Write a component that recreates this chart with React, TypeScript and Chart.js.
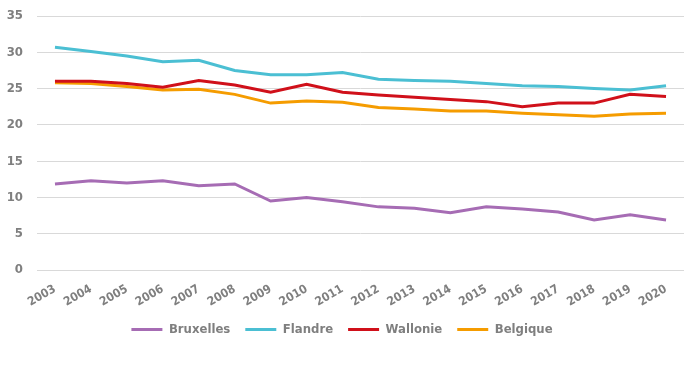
import React, { useEffect, useRef } from "react";
import { Chart, registerables } from "chart.js";

Chart.register(...registerables);

const years = ["2003","2004","2005","2006","2007","2008","2009","2010","2011","2012","2013","2014","2015","2016","2017","2018","2019","2020"];
const bruxelles = [11.85, 12.3, 12.0, 12.3, 11.6, 11.85, 9.5, 10.0, 9.4, 8.7, 8.5, 7.9, 8.7, 8.4, 8.0, 6.9, 7.6, 6.9];
const flandre = [30.7, 30.1, 29.5, 28.7, 28.9, 27.5, 26.9, 26.9, 27.2, 26.3, 26.1, 26.0, 25.7, 25.4, 25.3, 25.0, 24.8, 25.4];
const wallonie = [26.0, 26.0, 25.7, 25.2, 26.1, 25.5, 24.5, 25.6, 24.5, 24.1, 23.8, 23.5, 23.2, 22.5, 23.0, 23.0, 24.2, 23.9];
const belgique = [25.8, 25.7, 25.3, 24.8, 24.9, 24.2, 23.0, 23.3, 23.1, 22.4, 22.2, 21.9, 21.9, 21.6, 21.4, 21.2, 21.5, 21.6];
const yTicks = [0, 5, 10, 15, 20, 25, 30, 35];

const FONT = "'Liberation Sans Narrow', 'DejaVu Sans Condensed', sans-serif";
const GREY = "#7f7f7f";

export default function App() {
  const ref = useRef<HTMLCanvasElement>(null);
  useEffect(() => {
    if (!ref.current) return;
    const mk = (label: string, data: number[], color: string) => ({
      label, data, borderColor: color, backgroundColor: color,
      borderWidth: 3, pointRadius: 0, tension: 0, pointStyle: "line",
    });
    const chart = new Chart(ref.current, {
      type: "line",
      data: {
        labels: years,
        datasets: [
          mk("Bruxelles", bruxelles, "#a66cb4"),
          mk("Flandre", flandre, "#4bbfd3"),
          mk("Wallonie", wallonie, "#d0101a"),
          mk("Belgique", belgique, "#f59c00"),
        ],
      },
      options: {
        animation: false,
        responsive: false,
        layout: { padding: { top: 16, right: 16, bottom: 20, left: 0 } },
        plugins: {
          tooltip: { enabled: false },
          legend: {
            position: "bottom",
            labels: {
              usePointStyle: true,
              pointStyle: "line",
              pointStyleWidth: 31,
              padding: 15,
              color: GREY,
              font: { family: FONT, size: 13, weight: "bold" },
            },
          },
        },
        scales: {
          x: {
            offset: true,
            grid: { display: false },
            border: { display: false },
            afterFit: (s: any) => { s.height = 38; },
            ticks: {
              color: GREY,
              font: { family: FONT, size: 12, weight: "bold" },
              minRotation: 30,
              maxRotation: 30,
              padding: 4,
            },
          },
          y: {
            min: 0,
            max: 35,
            afterBuildTicks: (s: any) => { s.ticks = yTicks.map((v) => ({ value: v })); },
            afterFit: (s: any) => { s.width = 37; s.paddingTop = 0; s.paddingBottom = 0; },
            grid: { color: "#d9d9d9", lineWidth: 1, drawTicks: false },
            border: { display: false },
            ticks: {
              color: GREY,
              padding: 14,
              font: { family: FONT, size: 13, weight: "bold" },
            },
          },
        },
      },
    } as any);
    return () => chart.destroy();
  }, []);
  return (
    <div style={{ position: "fixed", left: 0, top: 0, width: 700, height: 366, background: "#fff" }}>
      <canvas ref={ref} width={700} height={366} />
    </div>
  );
}
